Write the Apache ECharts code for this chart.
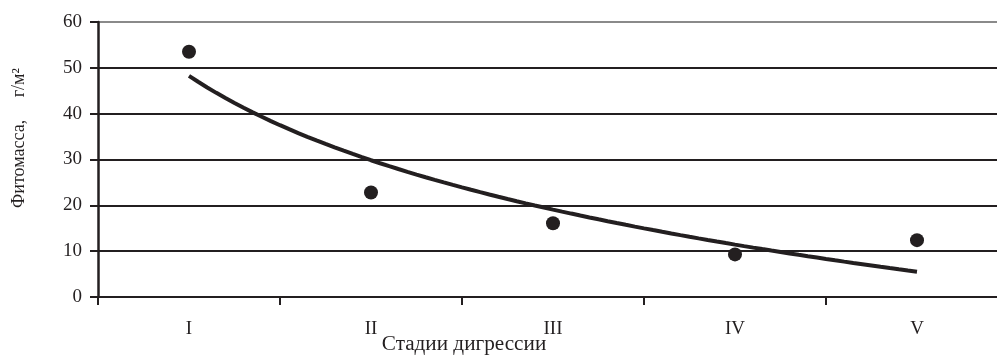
<!DOCTYPE html>
<html>
<head>
<meta charset="utf-8">
<script src="https://cdn.jsdelivr.net/npm/echarts@6/dist/echarts.min.js"></script>
<style>
  html, body { margin: 0; padding: 0; background: #fff; overflow: hidden; }
  /* the plot runs a little past the right edge of the page */
  #chart { width: 1008px; height: 356px; }
</style>
</head>
<body>
<div id="chart"></div>
<script>
// Стадии пастбищной дигрессии и фитомасса (г/м²)
const stages = ['I', 'II', 'III', 'IV', 'V'];
const biomass = [53.5, 22.8, 16.1, 9.3, 12.4];
const yTicks = { min: 0, max: 60, interval: 10 };

// Logarithmic trend y = a + b*ln(x), least squares over the stages
function logFit(values) {
  const xs = values.map((_, i) => Math.log(i + 1));
  const n = values.length;
  const mx = xs.reduce((s, v) => s + v, 0) / n;
  const my = values.reduce((s, v) => s + v, 0) / n;
  let sxx = 0, sxy = 0;
  xs.forEach((x, i) => { sxx += (x - mx) * (x - mx); sxy += (x - mx) * (values[i] - my); });
  const b = sxy / sxx;
  return { a: my - b * mx, b: b };
}
const fit = logFit(biomass);
const trend = [];
for (let k = 0; k <= 80; k++) {
  const x = 1 + k * (stages.length - 1) / 80;
  trend.push([x, fit.a + fit.b * Math.log(x)]);
}

const ink = '#231f20';
const font = '"Liberation Serif", "Times New Roman", serif';

const chart = echarts.init(document.getElementById('chart'));
chart.setOption({
  animation: false,
  backgroundColor: '#fff',
  grid: { left: 98, right: 0, top: 22, bottom: 59, containLabel: false },
  xAxis: [
    {
      type: 'category',
      data: stages,
      boundaryGap: true,
      axisLine: { lineStyle: { color: ink, width: 2 } },
      axisTick: { show: true, length: 8, lineStyle: { color: ink, width: 2 } },
      axisLabel: { color: ink, fontFamily: font, fontSize: 19, margin: 23 },
      splitLine: { show: false }
    },
    {
      type: 'value',
      min: 0.5, max: stages.length + 0.5,
      show: false
    }
  ],
  yAxis: {
    type: 'value',
    min: yTicks.min, max: yTicks.max, interval: yTicks.interval,
    axisLine: { show: true, lineStyle: { color: ink, width: 2.5 } },
    axisTick: { show: true, length: 8, lineStyle: { color: ink, width: 2 } },
    axisLabel: { color: ink, fontFamily: font, fontSize: 19, margin: 16 },
    splitLine: {
      show: true,
      lineStyle: { color: [ink, ink, ink, ink, ink, ink, '#8a8a8a'], width: 2 }
    }
  },
  graphic: [
    {
      type: 'text',
      x: 464, y: 345,
      scaleX: 1.06,
      style: {
        text: 'Стадии дигрессии', fill: ink, font: '20px ' + font,
        align: 'center', verticalAlign: 'middle'
      }
    },
    {
      type: 'text',
      x: 19, y: 138,
      rotation: Math.PI / 2,
      style: {
        text: 'Фитомасса,     г/м²', fill: ink, font: '18px ' + font,
        align: 'center', verticalAlign: 'middle'
      }
    }
  ],
  series: [
    {
      type: 'line',
      xAxisIndex: 1,
      data: trend,
      showSymbol: false,
      symbol: 'none',
      lineStyle: { color: ink, width: 4 },
      z: 3
    },
    {
      type: 'scatter',
      xAxisIndex: 1,
      data: biomass.map((v, i) => [i + 1, v]),
      symbol: 'circle',
      symbolSize: 14,
      itemStyle: { color: ink, opacity: 1 },
      z: 4
    }
  ]
});
</script>
</body>
</html>
